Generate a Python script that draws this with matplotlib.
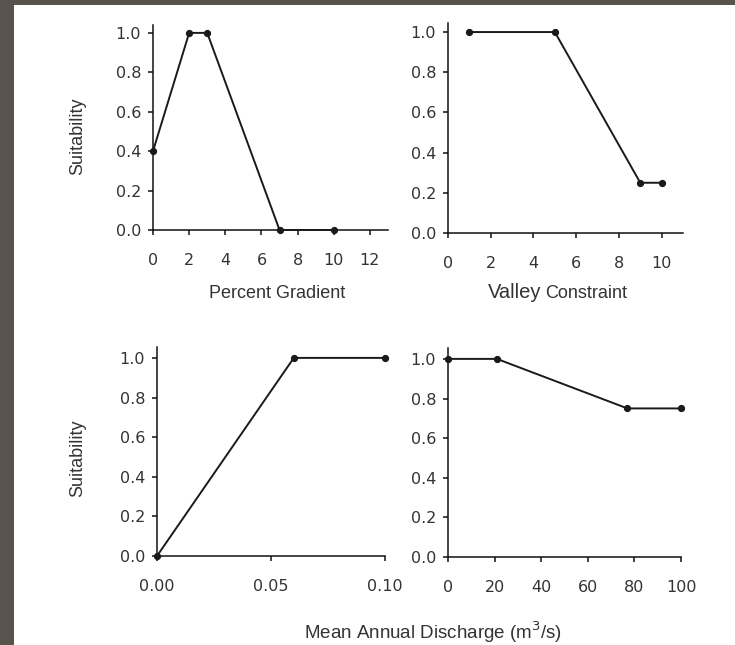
import matplotlib
matplotlib.use("Agg")
import matplotlib.pyplot as plt
from matplotlib.patches import Rectangle
from matplotlib.ticker import FormatStrFormatter

plt.rcParams['font.family'] = ['Liberation Sans', 'DejaVu Sans']

# ---- data ----
gradient_x = [0, 2, 3, 7, 10]
gradient_y = [0.4, 1.0, 1.0, 0.0, 0.0]

valley_x = [1, 5, 9, 10]
valley_y = [1.0, 1.0, 0.25, 0.25]

small_q_x = [0.0, 0.06, 0.10]
small_q_y = [0.0, 1.0, 1.0]

large_q_x = [0, 21, 77, 100]
large_q_y = [1.0, 1.0, 0.75, 0.75]

yticks = [0.0, 0.2, 0.4, 0.6, 0.8, 1.0]
xticks_grad = [0, 2, 4, 6, 8, 10, 12]
xticks_valley = [0, 2, 4, 6, 8, 10]
xticks_small = [0.00, 0.05, 0.10]
xticks_large = [0, 20, 40, 60, 80, 100]

W, H = 735, 645
fig = plt.figure(figsize=(W / 100, H / 100), dpi=100)
fig.patch.set_facecolor('#58534c')
fig.patches.append(Rectangle((14 / W, 0), 1 - 14 / W, 1 - 5 / H,
                             transform=fig.transFigure, facecolor='white',
                             edgecolor='none', zorder=-10))

TXT = '#333333'


def px_axes(left, right, top, bottom):
    return fig.add_axes([left / W, 1 - bottom / H, (right - left) / W, (bottom - top) / H])


def style(ax, xlim, ylim, xticks, xfmt):
    ax.set_facecolor('none')
    ax.set_xlim(*xlim)
    ax.set_ylim(*ylim)
    ax.set_xticks(xticks)
    ax.set_yticks(yticks)
    ax.xaxis.set_major_formatter(FormatStrFormatter(xfmt))
    ax.yaxis.set_major_formatter(FormatStrFormatter('%.1f'))
    for s in ['top', 'right']:
        ax.spines[s].set_visible(False)
    for s in ['left', 'bottom']:
        ax.spines[s].set_linewidth(1.1)
        ax.spines[s].set_color('#111111')
    ax.tick_params(axis='x', direction='out', length=3.5, width=1.1, pad=13,
                   labelsize=11.5, labelcolor=TXT, color='#111111')
    ax.tick_params(axis='y', direction='out', length=3.5, width=1.1, pad=5,
                   labelsize=11.5, labelcolor=TXT, color='#111111')
    for lab in ax.get_xticklabels() + ax.get_yticklabels():
        lab.set_fontfamily('DejaVu Sans')


def draw(ax, x, y):
    ax.plot(x, y, color='#1a1a1a', linewidth=1.4, marker='o', markersize=4.2,
            clip_on=False, zorder=3)


ax1 = px_axes(153, 388, 25, 230)
style(ax1, (0, 13), (0, 1.04), xticks_grad, '%d')
draw(ax1, gradient_x, gradient_y)

ax2 = px_axes(448, 683, 23, 233)
style(ax2, (0, 11), (0, 1.045), xticks_valley, '%d')
draw(ax2, valley_x, valley_y)

ax3 = px_axes(157, 385, 347, 556)
style(ax3, (0, 0.10), (0, 1.055), xticks_small, '%.2f')
draw(ax3, small_q_x, small_q_y)

ax4 = px_axes(448, 681, 348, 557)
style(ax4, (0, 100), (0, 1.055), xticks_large, '%d')
draw(ax4, large_q_x, large_q_y)


def ftext(x, y, s, **kw):
    fig.text(x / W, 1 - y / H, s, ha='center', va='center', color=TXT, **kw)


ftext(78, 136, 'Suitability', fontsize=13, rotation=90)
ftext(78, 458, 'Suitability', fontsize=13, rotation=90)
ftext(277, 293, 'Percent Gradient', fontsize=13)
fig.text(541 / W, 1 - 292 / H, 'Valley', ha='right', va='center', color=TXT, fontsize=14.5)
fig.text(545 / W, 1 - 293 / H, 'Constraint', ha='left', va='center', color=TXT, fontsize=13)
ftext(433, 632, 'Mean Annual Discharge (m$^3$/s)', fontsize=13.5)

fig.savefig('out.png', dpi=100, facecolor=fig.get_facecolor())
